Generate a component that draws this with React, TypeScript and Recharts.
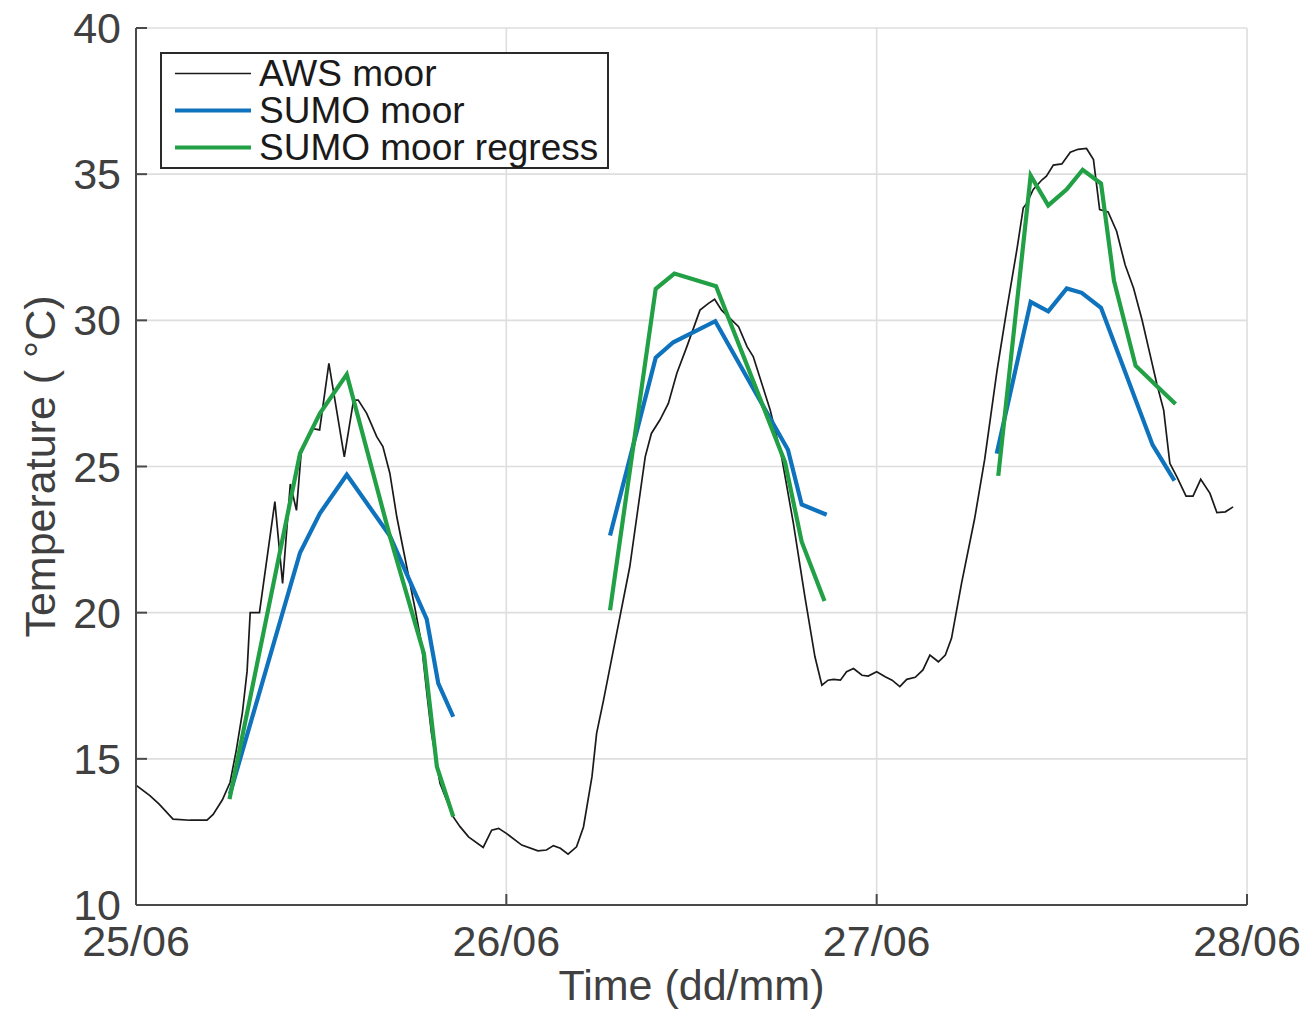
import React from 'react';
import { LineChart, Line, XAxis, YAxis, CartesianGrid, Legend } from 'recharts';

// time axis in hours from 25/06 00:00
const dayTicks = [0, 24, 48, 72];
const dayLabels = ['25/06', '26/06', '27/06', '28/06'];
const tempTicks = [10, 15, 20, 25, 30, 35, 40];

const awsHours = [
  0, 0.9, 1.5, 2.4, 3.5, 4.6, 5.0, 5.6, 6.1, 6.5, 6.9, 7.2, 7.4, 8.0, 9.0, 9.5, 10.0, 10.4, 10.7,
  11.4, 11.9, 12.5, 13.5, 14.1, 14.4, 14.95, 15.6, 16.0, 16.45, 16.9, 17.5, 18.1, 18.5, 18.85,
  19.15, 19.7, 20.55, 21.0, 21.55, 22.5, 23.05, 23.5, 24.0, 25.0, 26.05, 26.6, 27.05, 27.5, 28.0,
  28.55, 29.0, 29.55, 29.85, 30.3, 31.15, 32.0, 33.0, 33.4, 33.95, 34.5, 35.05, 35.7, 36.55, 37.1,
  37.5, 37.95, 39.05, 39.6, 40.0, 41.1, 41.85, 42.6, 43.35, 44.0, 44.45, 44.85, 45.2, 45.65, 46.05,
  46.5, 47.05, 47.45, 48.0, 48.55, 49.0, 49.5, 49.95, 50.5, 51.0, 51.45, 52.0, 52.45, 52.85, 53.5,
  54.35, 55.0, 55.8, 56.45, 57.1, 57.5, 57.7, 58.15, 58.7, 59.0, 59.45, 60.0, 60.55, 61.05, 61.6,
  62.05, 62.45, 63.0, 63.55, 64.1, 64.65, 65.2, 65.7, 66.15, 66.6, 67.0, 67.45, 68.05, 68.5, 69.0,
  69.6, 70.05, 70.6, 71.1,
];
const awsTemp = [
  14.1, 13.74, 13.45, 12.94, 12.9, 12.9, 13.1, 13.6, 14.2, 15.3, 16.6, 18.0, 20.0, 20.0, 23.8, 21.0,
  24.4, 23.5, 25.45, 26.3, 26.25, 28.53, 25.33, 27.27, 27.27, 26.82, 26.02, 25.68, 24.77, 23.28,
  21.69, 20.09, 18.95, 17.24, 15.87, 14.16, 13.02, 12.68, 12.33, 11.97, 12.56, 12.62, 12.45, 12.05,
  11.85, 11.88, 12.03, 11.94, 11.74, 11.99, 12.67, 14.39, 15.87, 17.01, 19.29, 21.57, 25.33, 26.13,
  26.59, 27.16, 28.19, 29.1, 30.35, 30.58, 30.72, 30.35, 29.78, 29.1, 28.76, 26.93, 25.3, 23.06,
  20.54, 18.49, 17.52, 17.69, 17.72, 17.69, 17.98, 18.09, 17.86, 17.83, 17.98, 17.81, 17.69, 17.47,
  17.72, 17.79, 18.04, 18.55, 18.32, 18.55, 19.12, 21.0, 23.22, 25.24, 28.28, 30.43, 32.46, 33.85,
  33.98, 34.48, 34.8, 34.93, 35.31, 35.35, 35.75, 35.85, 35.88, 35.5, 33.79, 33.71, 33.05, 31.9,
  31.1, 30.01, 28.87, 27.84, 26.93, 25.11, 24.65, 23.99, 23.99, 24.56, 24.08, 23.42, 23.45, 23.62,
];

// null entries break the line between days
const sumoHours = [
  6.09, 10.63, 11.92, 13.66, 16.46, 18.84, 19.59, 20.56, 25,
  30.72, 33.68, 34.82, 37.54, 42.25, 43.14, 44.76, 50,
  55.78, 57.98, 59.12, 60.32, 61.29, 62.54, 65.88, 67.3,
];
const sumoTemp = [
  13.8, 22.05, 23.4, 24.72, 22.62, 19.78, 17.58, 16.44, null,
  22.64, 28.72, 29.25, 29.97, 25.57, 23.7, 23.35, null,
  25.44, 30.63, 30.31, 31.09, 30.94, 30.43, 25.74, 24.52,
];

const regressHours = [
  6.06, 10.63, 11.92, 13.66, 16.46, 18.66, 19.5, 20.56, 25,
  30.72, 33.68, 34.89, 37.59, 42.06, 43.14, 44.62, 50,
  55.88, 57.98, 59.12, 60.32, 61.35, 62.54, 63.38, 64.78, 67.37,
];
const regressTemp = [
  13.62, 25.45, 26.82, 28.15, 22.6, 18.6, 14.73, 13.02, null,
  20.08, 31.08, 31.6, 31.17, 25.15, 22.43, 20.4, null,
  24.68, 34.95, 33.93, 34.48, 35.15, 34.68, 31.35, 28.45, 27.14,
];

const FONT = '"Liberation Sans", Arial, Helvetica, sans-serif';
const TEXT = '#404040';
const AXIS = '#4a4a4a';

const toRows = (hours: number[], temps: (number | null)[]) =>
  hours.map((t, i) => ({ t, v: temps[i] }));

const awsData = toRows(awsHours, awsTemp);
const sumoData = toRows(sumoHours, sumoTemp);
const regressData = toRows(regressHours, regressTemp);

const BottomTick = (props: any) => {
  const { x, y, payload } = props;
  const label = dayLabels[dayTicks.indexOf(payload.value)];
  return (
    <g>
      <line x1={x} y1={y} x2={x} y2={y - 11} stroke={AXIS} strokeWidth={2} />
      <text x={x} y={y + 51} textAnchor="middle" fontSize={43} fill={TEXT} fontFamily={FONT}>
        {label}
      </text>
    </g>
  );
};

const TopTick = (props: any) => {
  const { x, y } = props;
  return <line x1={x} y1={y} x2={x} y2={y + 11} stroke={AXIS} strokeWidth={2} />;
};

const LeftTick = (props: any) => {
  const { x, y, payload } = props;
  return (
    <g>
      <line x1={x} y1={y} x2={x + 11} y2={y} stroke={AXIS} strokeWidth={2} />
      <text x={x - 15} y={y + 15} textAnchor="end" fontSize={43} fill={TEXT} fontFamily={FONT}>
        {payload.value}
      </text>
    </g>
  );
};

const RightTick = (props: any) => {
  const { x, y } = props;
  return <line x1={x} y1={y} x2={x - 11} y2={y} stroke={AXIS} strokeWidth={2} />;
};

const renderLegend = (props: any) => {
  const { payload } = props;
  return (
    <div
      style={{
        width: 449,
        height: 117,
        boxSizing: 'border-box',
        border: '2px solid #2a2a2a',
        background: '#fff',
        position: 'relative',
      }}
    >
      {(payload || []).map((entry: any, i: number) => (
        <div
          key={entry.value}
          style={{ position: 'absolute', left: 0, top: 1 + 37 * i, height: 37, width: 445 }}
        >
          <svg width={90} height={37} style={{ position: 'absolute', left: 0, top: 0 }}>
            <line
              x1={13}
              y1={18.5}
              x2={89}
              y2={18.5}
              stroke={entry.color}
              strokeWidth={entry.payload?.strokeWidth ?? 2}
            />
          </svg>
          <span
            style={{
              position: 'absolute',
              left: 97,
              top: 0,
              lineHeight: '37px',
              fontSize: 37,
              fontFamily: FONT,
              color: '#1a1a1a',
              whiteSpace: 'nowrap',
            }}
          >
            {entry.value}
          </span>
        </div>
      ))}
    </div>
  );
};

export default function App() {
  return (
    <div style={{ position: 'absolute', left: 0, top: 0, background: '#fff' }}>
      <LineChart width={1310} height={1011} margin={{ top: 28, right: 63, bottom: 0, left: 0 }}>
        <CartesianGrid stroke="#dedede" strokeWidth={1.6} />
        <XAxis
          dataKey="t"
          type="number"
          domain={[0, 72]}
          ticks={dayTicks}
          allowDataOverflow
          height={106}
          tickSize={0}
          tickMargin={0}
          tickLine={false}
          axisLine={{ stroke: AXIS, strokeWidth: 2 }}
          tick={<BottomTick />}
          interval={0}
          label={{
            content: (p: any) => {
              const vb = p.viewBox;
              return (
                <text
                  x={vb.x + vb.width / 2}
                  y={vb.y + 95}
                  textAnchor="middle"
                  fontSize={43}
                  fill={TEXT}
                  fontFamily={FONT}
                >
                  Time (dd/mm)
                </text>
              );
            },
          }}
        />
        <XAxis
          xAxisId="top"
          orientation="top"
          type="number"
          domain={[0, 72]}
          ticks={dayTicks}
          height={0}
          tickSize={0}
          tickMargin={0}
          tickLine={false}
          axisLine={{ stroke: AXIS, strokeWidth: 2 }}
          tick={<TopTick />}
          interval={0}
        />
        <YAxis
          type="number"
          domain={[10, 40]}
          ticks={tempTicks}
          width={136}
          tickSize={0}
          tickMargin={0}
          tickLine={false}
          axisLine={{ stroke: AXIS, strokeWidth: 2 }}
          tick={<LeftTick />}
          interval={0}
          label={{
            content: (p: any) => {
              const vb = p.viewBox;
              const cx = vb.x + 55;
              const cy = vb.y + vb.height / 2;
              return (
                <text
                  x={cx}
                  y={cy}
                  transform={`rotate(-90 ${cx} ${cy})`}
                  textAnchor="middle"
                  fontSize={43}
                  fill={TEXT}
                  fontFamily={FONT}
                >
                  Temperature ( °C)
                </text>
              );
            },
          }}
        />
        <YAxis
          yAxisId="right"
          orientation="right"
          type="number"
          domain={[10, 40]}
          ticks={tempTicks}
          width={0}
          tickSize={0}
          tickMargin={0}
          tickLine={false}
          axisLine={{ stroke: AXIS, strokeWidth: 2 }}
          tick={<RightTick />}
          interval={0}
        />
        <Legend
          layout="vertical"
          align="center"
          verticalAlign="middle"
          wrapperStyle={{ left: 160, top: 52, width: 449, height: 117 }}
          content={renderLegend}
        />
        <Line
          data={awsData}
          dataKey="v"
          name="AWS moor"
          type="linear"
          stroke="#1a1a1a"
          strokeWidth={1.7}
          dot={false}
          activeDot={false}
          isAnimationActive={false}
        />
        <Line
          data={sumoData}
          dataKey="v"
          name="SUMO moor"
          type="linear"
          stroke="#0f72bd"
          strokeWidth={4.2}
          dot={false}
          activeDot={false}
          isAnimationActive={false}
        />
        <Line
          data={regressData}
          dataKey="v"
          name="SUMO moor regress"
          type="linear"
          stroke="#22a045"
          strokeWidth={4.2}
          dot={false}
          activeDot={false}
          isAnimationActive={false}
        />
      </LineChart>
    </div>
  );
}
